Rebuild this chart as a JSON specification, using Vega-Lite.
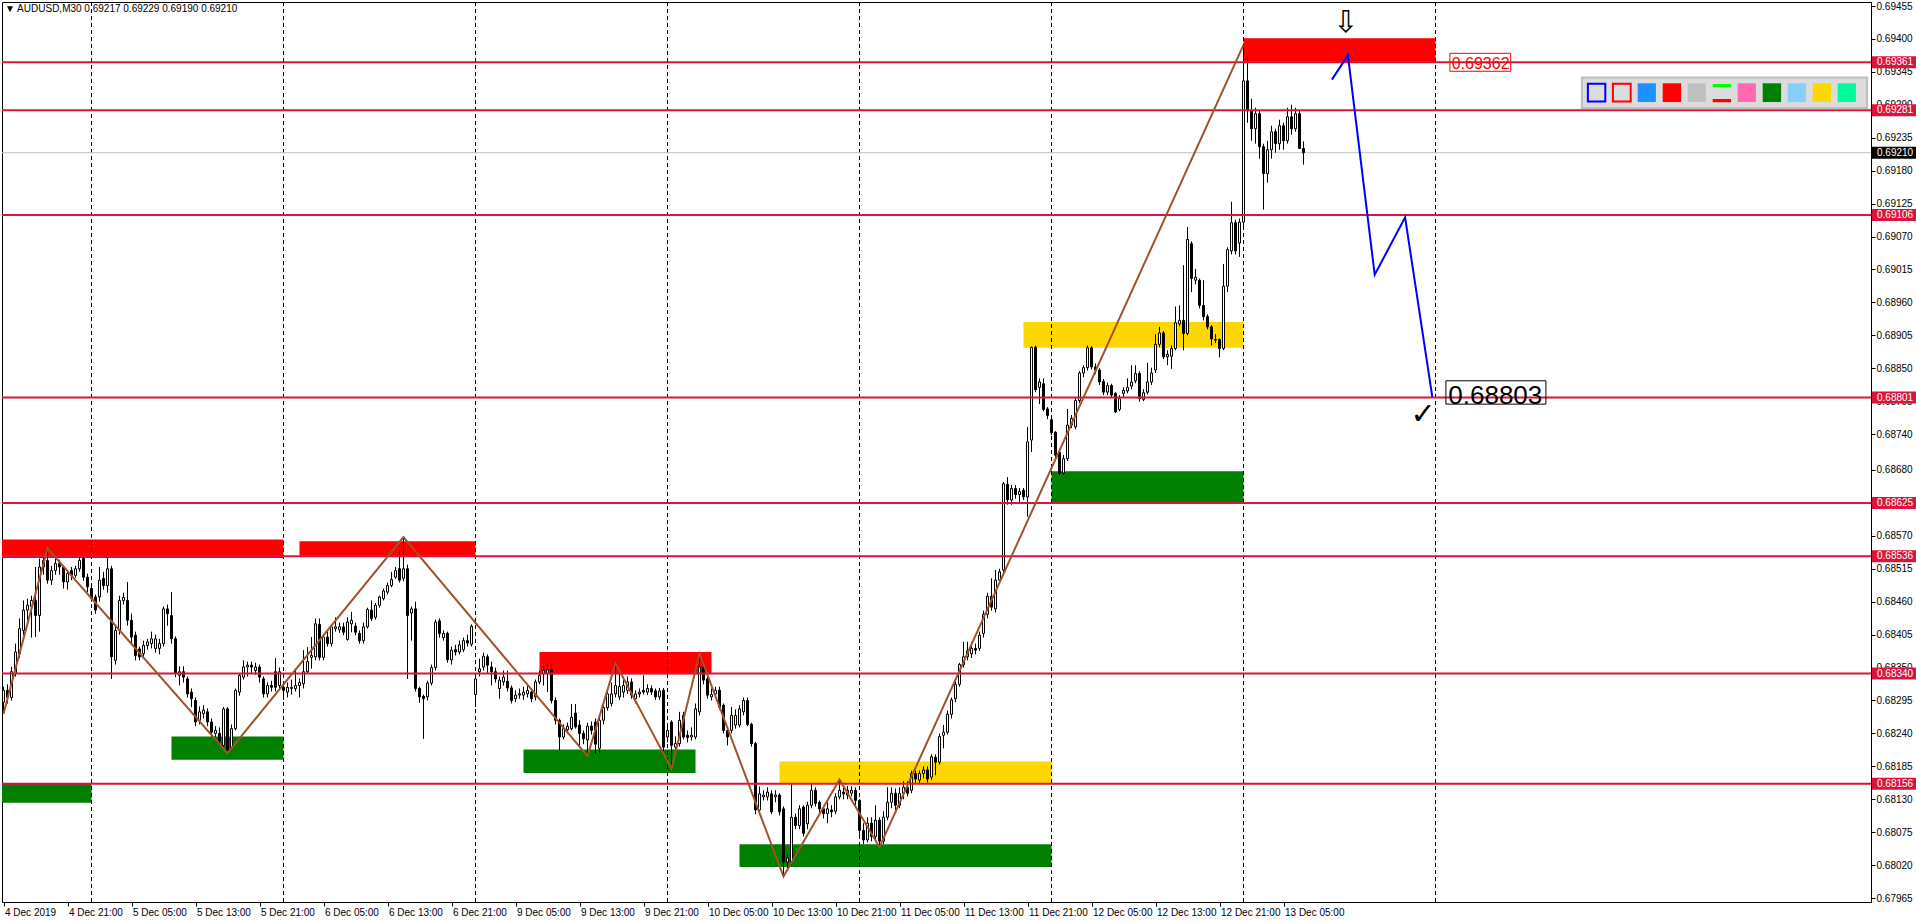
{
"$schema":"https://vega.github.io/schema/vega-lite/v6.json",
"width":1869,"height":900,
"autosize":{"type":"none"},
"padding":{"left":2,"top":2,"right":45,"bottom":21},
"background":"#FFFFFF",
"title":{"text":"▼ AUDUSD,M30  0.69217 0.69229 0.69190 0.69210","anchor":"start","frame":"group","orient":"top","offset":-13,"dx":3,"fontSize":10,"fontWeight":"normal","font":"Liberation Sans","color":"#000000"},
"config":{"view":{"stroke":"#000000","strokeWidth":1},"scale":{"continuousPadding":0},"axis":{"labelFont":"Liberation Sans","labelFontSize":10,"labelColor":"#000000","tickColor":"#000000","domainColor":"#000000","grid":false,"labelOverlap":false,"labelSeparation":0}},
"datasets":{
"candles":[
{"i":0,"o":0.68292,"h":0.68318,"l":0.68273,"c":0.68312},
{"i":1,"o":0.68312,"h":0.68322,"l":0.68290,"c":0.68300},
{"i":2,"o":0.68300,"h":0.68351,"l":0.68295,"c":0.68343},
{"i":3,"o":0.68340,"h":0.68390,"l":0.68335,"c":0.68376},
{"i":4,"o":0.68373,"h":0.68432,"l":0.68366,"c":0.68415},
{"i":5,"o":0.68412,"h":0.68462,"l":0.68404,"c":0.68446},
{"i":6,"o":0.68446,"h":0.68465,"l":0.68429,"c":0.68454},
{"i":7,"o":0.68452,"h":0.68470,"l":0.68400,"c":0.68462},
{"i":8,"o":0.68462,"h":0.68518,"l":0.68401,"c":0.68437},
{"i":9,"o":0.68437,"h":0.68532,"l":0.68410,"c":0.68518},
{"i":10,"o":0.68518,"h":0.68535,"l":0.68505,"c":0.68529},
{"i":11,"o":0.68529,"h":0.68549,"l":0.68490,"c":0.68496},
{"i":12,"o":0.68496,"h":0.68520,"l":0.68488,"c":0.68512},
{"i":13,"o":0.68512,"h":0.68535,"l":0.68505,"c":0.68524},
{"i":14,"o":0.68524,"h":0.68530,"l":0.68505,"c":0.68518},
{"i":15,"o":0.68518,"h":0.68520,"l":0.68482,"c":0.68493},
{"i":16,"o":0.68493,"h":0.68512,"l":0.68480,"c":0.68507},
{"i":17,"o":0.68512,"h":0.68518,"l":0.68496,"c":0.68504},
{"i":18,"o":0.68504,"h":0.68520,"l":0.68500,"c":0.68515},
{"i":19,"o":0.68515,"h":0.68535,"l":0.68510,"c":0.68529},
{"i":20,"o":0.68532,"h":0.68538,"l":0.68495,"c":0.68501},
{"i":21,"o":0.68501,"h":0.68507,"l":0.68476,"c":0.68485},
{"i":22,"o":0.68482,"h":0.68488,"l":0.68460,"c":0.68465},
{"i":23,"o":0.68468,"h":0.68472,"l":0.68440,"c":0.68446},
{"i":24,"o":0.68468,"h":0.68518,"l":0.68460,"c":0.68496},
{"i":25,"o":0.68499,"h":0.68510,"l":0.68480,"c":0.68487},
{"i":26,"o":0.68487,"h":0.68543,"l":0.68475,"c":0.68515},
{"i":27,"o":0.68515,"h":0.68520,"l":0.68331,"c":0.68368},
{"i":28,"o":0.68362,"h":0.68418,"l":0.68355,"c":0.68412},
{"i":29,"o":0.68412,"h":0.68470,"l":0.68405,"c":0.68462},
{"i":30,"o":0.68462,"h":0.68475,"l":0.68455,"c":0.68467},
{"i":31,"o":0.68462,"h":0.68493,"l":0.68420,"c":0.68429},
{"i":32,"o":0.68429,"h":0.68440,"l":0.68390,"c":0.68401},
{"i":33,"o":0.68404,"h":0.68410,"l":0.68362,"c":0.68370},
{"i":34,"o":0.68381,"h":0.68385,"l":0.68362,"c":0.68368},
{"i":35,"o":0.68373,"h":0.68395,"l":0.68365,"c":0.68387},
{"i":36,"o":0.68387,"h":0.68398,"l":0.68380,"c":0.68393},
{"i":37,"o":0.68390,"h":0.68410,"l":0.68382,"c":0.68398},
{"i":38,"o":0.68382,"h":0.68405,"l":0.68375,"c":0.68398},
{"i":39,"o":0.68382,"h":0.68398,"l":0.68372,"c":0.68390},
{"i":40,"o":0.68390,"h":0.68452,"l":0.68385,"c":0.68448},
{"i":41,"o":0.68448,"h":0.68455,"l":0.68420,"c":0.68440},
{"i":42,"o":0.68437,"h":0.68476,"l":0.68390,"c":0.68398},
{"i":43,"o":0.68398,"h":0.68402,"l":0.68334,"c":0.68340},
{"i":44,"o":0.68337,"h":0.68352,"l":0.68320,"c":0.68343},
{"i":45,"o":0.68343,"h":0.68352,"l":0.68325,"c":0.68334},
{"i":46,"o":0.68331,"h":0.68335,"l":0.68300,"c":0.68306},
{"i":47,"o":0.68309,"h":0.68315,"l":0.68284,"c":0.68298},
{"i":48,"o":0.68295,"h":0.68300,"l":0.68252,"c":0.68259},
{"i":49,"o":0.68262,"h":0.68285,"l":0.68255,"c":0.68276},
{"i":50,"o":0.68273,"h":0.68287,"l":0.68265,"c":0.68279},
{"i":51,"o":0.68276,"h":0.68282,"l":0.68252,"c":0.68259},
{"i":52,"o":0.68259,"h":0.68265,"l":0.68235,"c":0.68242},
{"i":53,"o":0.68240,"h":0.68252,"l":0.68234,"c":0.68245},
{"i":54,"o":0.68240,"h":0.68250,"l":0.68222,"c":0.68228},
{"i":55,"o":0.68220,"h":0.68284,"l":0.68215,"c":0.68281},
{"i":56,"o":0.68281,"h":0.68284,"l":0.68207,"c":0.68212},
{"i":57,"o":0.68217,"h":0.68255,"l":0.68212,"c":0.68248},
{"i":58,"o":0.68248,"h":0.68315,"l":0.68245,"c":0.68312},
{"i":59,"o":0.68309,"h":0.68340,"l":0.68303,"c":0.68337},
{"i":60,"o":0.68334,"h":0.68362,"l":0.68330,"c":0.68351},
{"i":61,"o":0.68351,"h":0.68360,"l":0.68335,"c":0.68354},
{"i":62,"o":0.68354,"h":0.68360,"l":0.68340,"c":0.68351},
{"i":63,"o":0.68345,"h":0.68358,"l":0.68338,"c":0.68351},
{"i":64,"o":0.68351,"h":0.68355,"l":0.68325,"c":0.68334},
{"i":65,"o":0.68331,"h":0.68335,"l":0.68300,"c":0.68306},
{"i":66,"o":0.68306,"h":0.68325,"l":0.68300,"c":0.68320},
{"i":67,"o":0.68320,"h":0.68328,"l":0.68310,"c":0.68317},
{"i":68,"o":0.68343,"h":0.68366,"l":0.68310,"c":0.68317},
{"i":69,"o":0.68320,"h":0.68350,"l":0.68315,"c":0.68343},
{"i":70,"o":0.68317,"h":0.68322,"l":0.68296,"c":0.68312},
{"i":71,"o":0.68309,"h":0.68325,"l":0.68300,"c":0.68317},
{"i":72,"o":0.68315,"h":0.68330,"l":0.68305,"c":0.68317},
{"i":73,"o":0.68315,"h":0.68345,"l":0.68310,"c":0.68320},
{"i":74,"o":0.68320,"h":0.68332,"l":0.68300,"c":0.68325},
{"i":75,"o":0.68323,"h":0.68379,"l":0.68315,"c":0.68343},
{"i":76,"o":0.68343,"h":0.68384,"l":0.68340,"c":0.68360},
{"i":77,"o":0.68367,"h":0.68401,"l":0.68348,"c":0.68370},
{"i":78,"o":0.68368,"h":0.68432,"l":0.68362,"c":0.68423},
{"i":79,"o":0.68422,"h":0.68432,"l":0.68362,"c":0.68367},
{"i":80,"o":0.68367,"h":0.68405,"l":0.68362,"c":0.68401},
{"i":81,"o":0.68401,"h":0.68410,"l":0.68385,"c":0.68390},
{"i":82,"o":0.68390,"h":0.68420,"l":0.68385,"c":0.68418},
{"i":83,"o":0.68415,"h":0.68434,"l":0.68410,"c":0.68418},
{"i":84,"o":0.68413,"h":0.68425,"l":0.68408,"c":0.68418},
{"i":85,"o":0.68418,"h":0.68425,"l":0.68404,"c":0.68409},
{"i":86,"o":0.68397,"h":0.68434,"l":0.68395,"c":0.68426},
{"i":87,"o":0.68423,"h":0.68443,"l":0.68409,"c":0.68429},
{"i":88,"o":0.68419,"h":0.68425,"l":0.68404,"c":0.68409},
{"i":89,"o":0.68407,"h":0.68412,"l":0.68390,"c":0.68395},
{"i":90,"o":0.68395,"h":0.68425,"l":0.68390,"c":0.68418},
{"i":91,"o":0.68418,"h":0.68450,"l":0.68415,"c":0.68447},
{"i":92,"o":0.68446,"h":0.68462,"l":0.68428,"c":0.68432},
{"i":93,"o":0.68434,"h":0.68458,"l":0.68430,"c":0.68454},
{"i":94,"o":0.68454,"h":0.68470,"l":0.68450,"c":0.68468},
{"i":95,"o":0.68465,"h":0.68482,"l":0.68462,"c":0.68478},
{"i":96,"o":0.68476,"h":0.68492,"l":0.68472,"c":0.68487},
{"i":97,"o":0.68487,"h":0.68510,"l":0.68484,"c":0.68497},
{"i":98,"o":0.68501,"h":0.68518,"l":0.68498,"c":0.68512},
{"i":99,"o":0.68515,"h":0.68547,"l":0.68492,"c":0.68496},
{"i":100,"o":0.68499,"h":0.68568,"l":0.68494,"c":0.68515},
{"i":101,"o":0.68515,"h":0.68522,"l":0.68331,"c":0.68437},
{"i":102,"o":0.68441,"h":0.68452,"l":0.68395,"c":0.68448},
{"i":103,"o":0.68448,"h":0.68460,"l":0.68310,"c":0.68315},
{"i":104,"o":0.68315,"h":0.68318,"l":0.68291,"c":0.68301},
{"i":105,"o":0.68302,"h":0.68305,"l":0.68231,"c":0.68298},
{"i":106,"o":0.68301,"h":0.68328,"l":0.68295,"c":0.68324},
{"i":107,"o":0.68324,"h":0.68355,"l":0.68320,"c":0.68350},
{"i":108,"o":0.68350,"h":0.68430,"l":0.68345,"c":0.68426},
{"i":109,"o":0.68428,"h":0.68432,"l":0.68400,"c":0.68407},
{"i":110,"o":0.68400,"h":0.68412,"l":0.68395,"c":0.68407},
{"i":111,"o":0.68407,"h":0.68410,"l":0.68358,"c":0.68363},
{"i":112,"o":0.68363,"h":0.68385,"l":0.68355,"c":0.68379},
{"i":113,"o":0.68380,"h":0.68388,"l":0.68370,"c":0.68376},
{"i":114,"o":0.68376,"h":0.68395,"l":0.68372,"c":0.68388},
{"i":115,"o":0.68380,"h":0.68400,"l":0.68376,"c":0.68395},
{"i":116,"o":0.68395,"h":0.68405,"l":0.68385,"c":0.68391},
{"i":117,"o":0.68389,"h":0.68422,"l":0.68385,"c":0.68419},
{"i":118,"o":0.68305,"h":0.68340,"l":0.68284,"c":0.68331},
{"i":119,"o":0.68343,"h":0.68365,"l":0.68335,"c":0.68348},
{"i":120,"o":0.68351,"h":0.68375,"l":0.68345,"c":0.68369},
{"i":121,"o":0.68368,"h":0.68372,"l":0.68340,"c":0.68354},
{"i":122,"o":0.68351,"h":0.68360,"l":0.68320,"c":0.68343},
{"i":123,"o":0.68343,"h":0.68350,"l":0.68325,"c":0.68331},
{"i":124,"o":0.68315,"h":0.68335,"l":0.68298,"c":0.68329},
{"i":125,"o":0.68326,"h":0.68345,"l":0.68320,"c":0.68334},
{"i":126,"o":0.68327,"h":0.68345,"l":0.68310,"c":0.68316},
{"i":127,"o":0.68316,"h":0.68320,"l":0.68290,"c":0.68295},
{"i":128,"o":0.68298,"h":0.68312,"l":0.68292,"c":0.68304},
{"i":129,"o":0.68304,"h":0.68315,"l":0.68298,"c":0.68306},
{"i":130,"o":0.68304,"h":0.68318,"l":0.68296,"c":0.68309},
{"i":131,"o":0.68306,"h":0.68320,"l":0.68300,"c":0.68312},
{"i":132,"o":0.68309,"h":0.68315,"l":0.68292,"c":0.68298},
{"i":133,"o":0.68301,"h":0.68330,"l":0.68295,"c":0.68326},
{"i":134,"o":0.68326,"h":0.68345,"l":0.68322,"c":0.68337},
{"i":135,"o":0.68340,"h":0.68352,"l":0.68320,"c":0.68345},
{"i":136,"o":0.68340,"h":0.68355,"l":0.68309,"c":0.68346},
{"i":137,"o":0.68346,"h":0.68355,"l":0.68290,"c":0.68295},
{"i":138,"o":0.68295,"h":0.68300,"l":0.68255,"c":0.68262},
{"i":139,"o":0.68262,"h":0.68265,"l":0.68212,"c":0.68234},
{"i":140,"o":0.68234,"h":0.68255,"l":0.68230,"c":0.68248},
{"i":141,"o":0.68246,"h":0.68258,"l":0.68240,"c":0.68252},
{"i":142,"o":0.68248,"h":0.68289,"l":0.68245,"c":0.68267},
{"i":143,"o":0.68274,"h":0.68289,"l":0.68248,"c":0.68251},
{"i":144,"o":0.68254,"h":0.68262,"l":0.68220,"c":0.68240},
{"i":145,"o":0.68240,"h":0.68245,"l":0.68222,"c":0.68231},
{"i":146,"o":0.68229,"h":0.68258,"l":0.68202,"c":0.68252},
{"i":147,"o":0.68252,"h":0.68260,"l":0.68238,"c":0.68245},
{"i":148,"o":0.68259,"h":0.68265,"l":0.68206,"c":0.68222},
{"i":149,"o":0.68215,"h":0.68268,"l":0.68208,"c":0.68262},
{"i":150,"o":0.68262,"h":0.68290,"l":0.68255,"c":0.68283},
{"i":151,"o":0.68283,"h":0.68312,"l":0.68278,"c":0.68306},
{"i":152,"o":0.68290,"h":0.68325,"l":0.68285,"c":0.68306},
{"i":153,"o":0.68306,"h":0.68357,"l":0.68300,"c":0.68320},
{"i":154,"o":0.68301,"h":0.68340,"l":0.68296,"c":0.68318},
{"i":155,"o":0.68309,"h":0.68330,"l":0.68300,"c":0.68320},
{"i":156,"o":0.68312,"h":0.68335,"l":0.68306,"c":0.68326},
{"i":157,"o":0.68326,"h":0.68332,"l":0.68298,"c":0.68304},
{"i":158,"o":0.68298,"h":0.68312,"l":0.68290,"c":0.68306},
{"i":159,"o":0.68306,"h":0.68315,"l":0.68300,"c":0.68309},
{"i":160,"o":0.68312,"h":0.68337,"l":0.68305,"c":0.68309},
{"i":161,"o":0.68309,"h":0.68322,"l":0.68304,"c":0.68315},
{"i":162,"o":0.68315,"h":0.68320,"l":0.68304,"c":0.68309},
{"i":163,"o":0.68311,"h":0.68315,"l":0.68296,"c":0.68301},
{"i":164,"o":0.68301,"h":0.68316,"l":0.68296,"c":0.68311},
{"i":165,"o":0.68312,"h":0.68316,"l":0.68210,"c":0.68217},
{"i":166,"o":0.68234,"h":0.68252,"l":0.68225,"c":0.68245},
{"i":167,"o":0.68259,"h":0.68262,"l":0.68181,"c":0.68220},
{"i":168,"o":0.68217,"h":0.68235,"l":0.68210,"c":0.68223},
{"i":169,"o":0.68223,"h":0.68276,"l":0.68218,"c":0.68262},
{"i":170,"o":0.68270,"h":0.68276,"l":0.68230,"c":0.68234},
{"i":171,"o":0.68237,"h":0.68245,"l":0.68225,"c":0.68233},
{"i":172,"o":0.68234,"h":0.68250,"l":0.68228,"c":0.68237},
{"i":173,"o":0.68234,"h":0.68290,"l":0.68230,"c":0.68281},
{"i":174,"o":0.68276,"h":0.68373,"l":0.68270,"c":0.68351},
{"i":175,"o":0.68351,"h":0.68360,"l":0.68322,"c":0.68329},
{"i":176,"o":0.68331,"h":0.68335,"l":0.68298,"c":0.68304},
{"i":177,"o":0.68301,"h":0.68315,"l":0.68295,"c":0.68305},
{"i":178,"o":0.68306,"h":0.68318,"l":0.68300,"c":0.68312},
{"i":179,"o":0.68312,"h":0.68318,"l":0.68280,"c":0.68284},
{"i":180,"o":0.68287,"h":0.68290,"l":0.68240,"c":0.68245},
{"i":181,"o":0.68245,"h":0.68250,"l":0.68220,"c":0.68234},
{"i":182,"o":0.68245,"h":0.68284,"l":0.68240,"c":0.68270},
{"i":183,"o":0.68254,"h":0.68280,"l":0.68248,"c":0.68270},
{"i":184,"o":0.68254,"h":0.68287,"l":0.68250,"c":0.68281},
{"i":185,"o":0.68276,"h":0.68300,"l":0.68270,"c":0.68295},
{"i":186,"o":0.68295,"h":0.68300,"l":0.68252,"c":0.68255},
{"i":187,"o":0.68255,"h":0.68258,"l":0.68218,"c":0.68223},
{"i":188,"o":0.68223,"h":0.68226,"l":0.68105,"c":0.68112},
{"i":189,"o":0.68112,"h":0.68151,"l":0.68105,"c":0.68139},
{"i":190,"o":0.68134,"h":0.68145,"l":0.68128,"c":0.68137},
{"i":191,"o":0.68134,"h":0.68150,"l":0.68128,"c":0.68142},
{"i":192,"o":0.68139,"h":0.68145,"l":0.68105,"c":0.68109},
{"i":193,"o":0.68134,"h":0.68145,"l":0.68125,"c":0.68137},
{"i":194,"o":0.68137,"h":0.68140,"l":0.68103,"c":0.68109},
{"i":195,"o":0.68114,"h":0.68118,"l":0.68001,"c":0.68025},
{"i":196,"o":0.68025,"h":0.68040,"l":0.68010,"c":0.68032},
{"i":197,"o":0.68025,"h":0.68156,"l":0.68020,"c":0.68100},
{"i":198,"o":0.68100,"h":0.68106,"l":0.68080,"c":0.68086},
{"i":199,"o":0.68086,"h":0.68120,"l":0.68080,"c":0.68114},
{"i":200,"o":0.68117,"h":0.68120,"l":0.68068,"c":0.68073},
{"i":201,"o":0.68089,"h":0.68126,"l":0.68080,"c":0.68120},
{"i":202,"o":0.68120,"h":0.68156,"l":0.68115,"c":0.68145},
{"i":203,"o":0.68145,"h":0.68150,"l":0.68118,"c":0.68123},
{"i":204,"o":0.68125,"h":0.68128,"l":0.68108,"c":0.68114},
{"i":205,"o":0.68114,"h":0.68118,"l":0.68098,"c":0.68106},
{"i":206,"o":0.68106,"h":0.68125,"l":0.68090,"c":0.68114},
{"i":207,"o":0.68112,"h":0.68120,"l":0.68100,"c":0.68109},
{"i":208,"o":0.68110,"h":0.68140,"l":0.68105,"c":0.68134},
{"i":209,"o":0.68134,"h":0.68163,"l":0.68130,"c":0.68145},
{"i":210,"o":0.68142,"h":0.68150,"l":0.68130,"c":0.68139},
{"i":211,"o":0.68137,"h":0.68152,"l":0.68130,"c":0.68145},
{"i":212,"o":0.68140,"h":0.68152,"l":0.68135,"c":0.68145},
{"i":213,"o":0.68145,"h":0.68150,"l":0.68120,"c":0.68128},
{"i":214,"o":0.68128,"h":0.68130,"l":0.68070,"c":0.68078},
{"i":215,"o":0.68078,"h":0.68090,"l":0.68055,"c":0.68062},
{"i":216,"o":0.68062,"h":0.68100,"l":0.68058,"c":0.68090},
{"i":217,"o":0.68090,"h":0.68100,"l":0.68060,"c":0.68068},
{"i":218,"o":0.68068,"h":0.68120,"l":0.68062,"c":0.68095},
{"i":219,"o":0.68095,"h":0.68100,"l":0.68050,"c":0.68060},
{"i":220,"o":0.68060,"h":0.68110,"l":0.68055,"c":0.68100},
{"i":221,"o":0.68100,"h":0.68150,"l":0.68095,"c":0.68125},
{"i":222,"o":0.68125,"h":0.68150,"l":0.68115,"c":0.68140},
{"i":223,"o":0.68140,"h":0.68148,"l":0.68110,"c":0.68120},
{"i":224,"o":0.68120,"h":0.68150,"l":0.68115,"c":0.68140},
{"i":225,"o":0.68140,"h":0.68160,"l":0.68130,"c":0.68150},
{"i":226,"o":0.68150,"h":0.68160,"l":0.68135,"c":0.68140},
{"i":227,"o":0.68145,"h":0.68178,"l":0.68140,"c":0.68173},
{"i":228,"o":0.68173,"h":0.68178,"l":0.68155,"c":0.68164},
{"i":229,"o":0.68162,"h":0.68178,"l":0.68155,"c":0.68173},
{"i":230,"o":0.68173,"h":0.68185,"l":0.68165,"c":0.68179},
{"i":231,"o":0.68179,"h":0.68185,"l":0.68158,"c":0.68164},
{"i":232,"o":0.68167,"h":0.68205,"l":0.68162,"c":0.68201},
{"i":233,"o":0.68200,"h":0.68205,"l":0.68170,"c":0.68192},
{"i":234,"o":0.68192,"h":0.68240,"l":0.68188,"c":0.68235},
{"i":235,"o":0.68237,"h":0.68254,"l":0.68215,"c":0.68242},
{"i":236,"o":0.68242,"h":0.68278,"l":0.68238,"c":0.68272},
{"i":237,"o":0.68272,"h":0.68300,"l":0.68265,"c":0.68296},
{"i":238,"o":0.68298,"h":0.68328,"l":0.68292,"c":0.68322},
{"i":239,"o":0.68322,"h":0.68358,"l":0.68318,"c":0.68355},
{"i":240,"o":0.68355,"h":0.68393,"l":0.68350,"c":0.68368},
{"i":241,"o":0.68368,"h":0.68393,"l":0.68362,"c":0.68378},
{"i":242,"o":0.68373,"h":0.68392,"l":0.68366,"c":0.68382},
{"i":243,"o":0.68382,"h":0.68390,"l":0.68372,"c":0.68379},
{"i":244,"o":0.68382,"h":0.68410,"l":0.68378,"c":0.68404},
{"i":245,"o":0.68407,"h":0.68445,"l":0.68400,"c":0.68439},
{"i":246,"o":0.68439,"h":0.68475,"l":0.68432,"c":0.68469},
{"i":247,"o":0.68469,"h":0.68499,"l":0.68445,"c":0.68451},
{"i":248,"o":0.68448,"h":0.68513,"l":0.68442,"c":0.68496},
{"i":249,"o":0.68496,"h":0.68515,"l":0.68490,"c":0.68510},
{"i":250,"o":0.68513,"h":0.68660,"l":0.68508,"c":0.68657},
{"i":251,"o":0.68656,"h":0.68668,"l":0.68622,"c":0.68630},
{"i":252,"o":0.68630,"h":0.68655,"l":0.68622,"c":0.68649},
{"i":253,"o":0.68649,"h":0.68655,"l":0.68632,"c":0.68639},
{"i":254,"o":0.68639,"h":0.68650,"l":0.68625,"c":0.68644},
{"i":255,"o":0.68646,"h":0.68650,"l":0.68630,"c":0.68635},
{"i":256,"o":0.68635,"h":0.68752,"l":0.68602,"c":0.68727},
{"i":257,"o":0.68730,"h":0.68886,"l":0.68710,"c":0.68885},
{"i":258,"o":0.68885,"h":0.68888,"l":0.68810,"c":0.68814},
{"i":259,"o":0.68818,"h":0.68833,"l":0.68790,"c":0.68827},
{"i":260,"o":0.68824,"h":0.68833,"l":0.68778,"c":0.68781},
{"i":261,"o":0.68782,"h":0.68785,"l":0.68765,"c":0.68771},
{"i":262,"o":0.68764,"h":0.68766,"l":0.68738,"c":0.68742},
{"i":263,"o":0.68743,"h":0.68745,"l":0.68700,"c":0.68705},
{"i":264,"o":0.68710,"h":0.68712,"l":0.68671,"c":0.68674},
{"i":265,"o":0.68675,"h":0.68705,"l":0.68672,"c":0.68699},
{"i":266,"o":0.68699,"h":0.68782,"l":0.68695,"c":0.68755},
{"i":267,"o":0.68755,"h":0.68772,"l":0.68750,"c":0.68766},
{"i":268,"o":0.68752,"h":0.68800,"l":0.68748,"c":0.68796},
{"i":269,"o":0.68796,"h":0.68845,"l":0.68792,"c":0.68842},
{"i":270,"o":0.68842,"h":0.68855,"l":0.68835,"c":0.68851},
{"i":271,"o":0.68851,"h":0.68888,"l":0.68846,"c":0.68884},
{"i":272,"o":0.68884,"h":0.68887,"l":0.68848,"c":0.68852},
{"i":273,"o":0.68852,"h":0.68858,"l":0.68840,"c":0.68847},
{"i":274,"o":0.68847,"h":0.68850,"l":0.68822,"c":0.68827},
{"i":275,"o":0.68828,"h":0.68832,"l":0.68805,"c":0.68810},
{"i":276,"o":0.68810,"h":0.68826,"l":0.68805,"c":0.68821},
{"i":277,"o":0.68821,"h":0.68824,"l":0.68800,"c":0.68805},
{"i":278,"o":0.68808,"h":0.68810,"l":0.68775,"c":0.68777},
{"i":279,"o":0.68781,"h":0.68805,"l":0.68778,"c":0.68799},
{"i":280,"o":0.68808,"h":0.68818,"l":0.68802,"c":0.68813},
{"i":281,"o":0.68812,"h":0.68833,"l":0.68808,"c":0.68818},
{"i":282,"o":0.68820,"h":0.68855,"l":0.68815,"c":0.68827},
{"i":283,"o":0.68829,"h":0.68855,"l":0.68825,"c":0.68841},
{"i":284,"o":0.68841,"h":0.68845,"l":0.68794,"c":0.68799},
{"i":285,"o":0.68798,"h":0.68815,"l":0.68795,"c":0.68809},
{"i":286,"o":0.68810,"h":0.68859,"l":0.68806,"c":0.68827},
{"i":287,"o":0.68827,"h":0.68851,"l":0.68822,"c":0.68842},
{"i":288,"o":0.68847,"h":0.68907,"l":0.68842,"c":0.68890},
{"i":289,"o":0.68890,"h":0.68919,"l":0.68885,"c":0.68909},
{"i":290,"o":0.68909,"h":0.68912,"l":0.68865,"c":0.68869},
{"i":291,"o":0.68869,"h":0.68880,"l":0.68855,"c":0.68873},
{"i":292,"o":0.68870,"h":0.68888,"l":0.68849,"c":0.68883},
{"i":293,"o":0.68883,"h":0.68953,"l":0.68880,"c":0.68926},
{"i":294,"o":0.68924,"h":0.68955,"l":0.68920,"c":0.68930},
{"i":295,"o":0.68930,"h":0.69022,"l":0.68880,"c":0.68908},
{"i":296,"o":0.68908,"h":0.69086,"l":0.68905,"c":0.69065},
{"i":297,"o":0.69058,"h":0.69062,"l":0.68977,"c":0.69000},
{"i":298,"o":0.68997,"h":0.69016,"l":0.68990,"c":0.69002},
{"i":299,"o":0.68997,"h":0.69000,"l":0.68950,"c":0.68955},
{"i":300,"o":0.68955,"h":0.68997,"l":0.68930,"c":0.68936},
{"i":301,"o":0.68936,"h":0.68940,"l":0.68915,"c":0.68919},
{"i":302,"o":0.68919,"h":0.68922,"l":0.68888,"c":0.68899},
{"i":303,"o":0.68898,"h":0.68907,"l":0.68892,"c":0.68897},
{"i":304,"o":0.68898,"h":0.68900,"l":0.68868,"c":0.68883},
{"i":305,"o":0.68883,"h":0.69024,"l":0.68880,"c":0.68987},
{"i":306,"o":0.68987,"h":0.69052,"l":0.68977,"c":0.69048},
{"i":307,"o":0.69046,"h":0.69128,"l":0.69040,"c":0.69093},
{"i":308,"o":0.69093,"h":0.69098,"l":0.69040,"c":0.69046},
{"i":309,"o":0.69059,"h":0.69100,"l":0.69036,"c":0.69094},
{"i":310,"o":0.69094,"h":0.69390,"l":0.69085,"c":0.69330},
{"i":311,"o":0.69330,"h":0.69370,"l":0.69260,"c":0.69280},
{"i":312,"o":0.69280,"h":0.69300,"l":0.69230,"c":0.69250},
{"i":313,"o":0.69250,"h":0.69285,"l":0.69225,"c":0.69275},
{"i":314,"o":0.69275,"h":0.69280,"l":0.69200,"c":0.69220},
{"i":315,"o":0.69220,"h":0.69225,"l":0.69115,"c":0.69175},
{"i":316,"o":0.69175,"h":0.69230,"l":0.69160,"c":0.69215},
{"i":317,"o":0.69215,"h":0.69255,"l":0.69200,"c":0.69245},
{"i":318,"o":0.69245,"h":0.69250,"l":0.69210,"c":0.69225},
{"i":319,"o":0.69225,"h":0.69265,"l":0.69215,"c":0.69255},
{"i":320,"o":0.69255,"h":0.69260,"l":0.69215,"c":0.69230},
{"i":321,"o":0.69230,"h":0.69285,"l":0.69225,"c":0.69270},
{"i":322,"o":0.69270,"h":0.69290,"l":0.69240,"c":0.69250},
{"i":323,"o":0.69250,"h":0.69285,"l":0.69245,"c":0.69275},
{"i":324,"o":0.69275,"h":0.69280,"l":0.69220,"c":0.69217},
{"i":325,"o":0.69217,"h":0.69229,"l":0.69190,"c":0.69210}
],
"levels":[{"p":0.69361},{"p":0.69281},{"p":0.69106},{"p":0.68801},{"p":0.68625},{"p":0.68536},{"p":0.68340},{"p":0.68156}],
"bid":[{"p":0.69210}],
"seps":[{"i":22},{"i":70},{"i":118},{"i":166},{"i":214},{"i":262},{"i":310},{"i":358}],
"zones":[
{"kind":"supply","x1":-0.375,"x2":70,"p1":0.68533,"p2":0.68564},
{"kind":"supply","x1":74,"x2":118,"p1":0.68535,"p2":0.68561},
{"kind":"demand","x1":-0.375,"x2":22,"p1":0.68124,"p2":0.68157},
{"kind":"demand","x1":42,"x2":70,"p1":0.68196,"p2":0.68235},
{"kind":"supply","x1":134,"x2":177,"p1":0.68339,"p2":0.68376},
{"kind":"demand","x1":130,"x2":173,"p1":0.68174,"p2":0.68213},
{"kind":"pivot","x1":194,"x2":262,"p1":0.68156,"p2":0.68193},
{"kind":"demand","x1":184,"x2":262,"p1":0.68017,"p2":0.68055},
{"kind":"demand","x1":262,"x2":310,"p1":0.68626,"p2":0.68678},
{"kind":"pivot","x1":255,"x2":310,"p1":0.68884,"p2":0.68927},
{"kind":"supply","x1":310,"x2":358,"p1":0.69361,"p2":0.69401}
],
"zigzag":[{"i":0,"p":0.68273},{"i":11,"p":0.68549},{"i":56,"p":0.68207},{"i":100,"p":0.68568},{"i":146,"p":0.68202},{"i":153,"p":0.68357},{"i":167,"p":0.68181},{"i":174,"p":0.68373},{"i":195,"p":0.68001},{"i":209,"p":0.68163},{"i":219,"p":0.68050},{"i":310,"p":0.69390}],
"proj":[{"i":332.1,"p":0.69332},{"i":336.1,"p":0.69373},{"i":342.8,"p":0.69006},{"i":350.4,"p":0.69102},{"i":357.2,"p":0.68802}],
"panel":[{"x1":394.6,"x2":465.9,"p1":0.692846,"p2":0.693356}],
"palette":[
{"k":"frameB","x1":395.95,"x2":400.6,"p1":0.692946,"p2":0.693259},
{"k":"frameR","x1":402.2,"x2":406.95,"p1":0.692946,"p2":0.693259},
{"k":"dodger","x1":408.55,"x2":413.1,"p1":0.692946,"p2":0.693259},
{"k":"red","x1":414.8,"x2":419.4,"p1":0.692946,"p2":0.693259},
{"k":"silver","x1":421.05,"x2":425.6,"p1":0.692946,"p2":0.693259},
{"k":"lineG","x1":427.3,"x2":431.9,"p1":0.693192,"p2":0.693247},
{"k":"lineR","x1":427.3,"x2":431.9,"p1":0.692942,"p2":0.692997},
{"k":"pink","x1":433.55,"x2":438.1,"p1":0.692946,"p2":0.693259},
{"k":"green","x1":439.8,"x2":444.4,"p1":0.692946,"p2":0.693259},
{"k":"sky","x1":446.05,"x2":450.6,"p1":0.692946,"p2":0.693259},
{"k":"gold","x1":452.3,"x2":456.9,"p1":0.692946,"p2":0.693259},
{"k":"spring","x1":458.55,"x2":463.1,"p1":0.692946,"p2":0.693259}
],
"frames":[
{"k":"frameB","x1":396.1,"x2":400.45,"p1":0.692955,"p2":0.69325},
{"k":"frameR","x1":402.35,"x2":406.8,"p1":0.692955,"p2":0.69325}
]
},
"layer":[
{"data":{"name":"zones"},"mark":{"type":"rect","strokeWidth":0},
 "encoding":{"x":{"field":"x1","type":"quantitative","scale":{"domain":[-0.375,466.875],"nice":false,"zero":false,"padding":0}},"x2":{"field":"x2"},
 "y":{"field":"p1","type":"quantitative","scale":{"domain":[0.679584,0.694617],"nice":false,"zero":false}},"y2":{"field":"p2"},
 "fill":{"field":"kind","type":"nominal","scale":{"domain":["supply","demand","pivot"],"range":["#FF0000","#008000","#FFD700"]},"legend":null}}},
{"data":{"name":"seps"},"mark":{"type":"rule","color":"#000000","strokeWidth":1,"strokeDash":[4,3]},
 "encoding":{"x":{"field":"i","type":"quantitative","scale":{"domain":[-0.375,466.875],"nice":false,"zero":false,"padding":0}}}},
{"data":{"name":"bid"},"mark":{"type":"rule","color":"#C0C0C0","strokeWidth":1},
 "encoding":{"y":{"field":"p","type":"quantitative","scale":{"domain":[0.679584,0.694617],"nice":false,"zero":false}}}},
{"data":{"name":"candles"},"mark":{"type":"rule","color":"#000000","strokeWidth":1},
 "encoding":{
  "x":{"field":"i","type":"quantitative","scale":{"domain":[-0.375,466.875],"nice":false,"zero":false,"padding":0},
   "axis":{"title":null,"values":[0,16,32,48,64,80,96,112,128,144,160,176,192,208,224,240,256,272,288,304,320],"tickCount":60,
   "labelExpr":"['4 Dec 2019','4 Dec 21:00','5 Dec 05:00','5 Dec 13:00','5 Dec 21:00','6 Dec 05:00','6 Dec 13:00','6 Dec 21:00','9 Dec 05:00','9 Dec 13:00','9 Dec 21:00','10 Dec 05:00','10 Dec 13:00','10 Dec 21:00','11 Dec 05:00','11 Dec 13:00','11 Dec 21:00','12 Dec 05:00','12 Dec 13:00','12 Dec 21:00','13 Dec 05:00'][round(datum.value/16)]",
   "labelAlign":"left","labelBaseline":"top","labelPadding":1,"labelOffset":1,"tickSize":4,"labelOverlap":false,"labelBound":false,"labelFlush":false,"grid":false}},
  "y":{"field":"l","type":"quantitative","scale":{"domain":[0.679584,0.694617],"nice":false,"zero":false},
   "axis":{"title":null,"orient":"right","tickCount":60,"values":[0.69455,0.694,0.69345,0.6929,0.69235,0.6918,0.69125,0.6907,0.69015,0.6896,0.68905,0.6885,0.68795,0.6874,0.6868,0.68625,0.6857,0.68515,0.6846,0.68405,0.6835,0.68295,0.6824,0.68185,0.6813,0.68075,0.6802,0.67965],
   "format":".5f","tickSize":4,"labelPadding":1,"labelOverlap":false,"labelBound":false,"labelFlush":false,"grid":false}},
  "y2":{"field":"h"}}},
{"data":{"name":"candles"},"mark":{"type":"bar","size":2,"stroke":"#000000","strokeWidth":1,"orient":"vertical"},
 "encoding":{"x":{"field":"i","type":"quantitative","scale":{"domain":[-0.375,466.875],"nice":false,"zero":false,"padding":0}},
 "y":{"field":"o","type":"quantitative","scale":{"domain":[0.679584,0.694617],"nice":false,"zero":false}},"y2":{"field":"c"},
 "fill":{"condition":{"test":"datum.c >= datum.o","value":"#FFFFFF"},"value":"#000000"}}},
{"data":{"name":"levels"},"mark":{"type":"rule","color":"#DC143C","strokeWidth":2},
 "encoding":{"y":{"field":"p","type":"quantitative","scale":{"domain":[0.679584,0.694617],"nice":false,"zero":false}}}},
{"data":{"name":"zigzag"},"mark":{"type":"line","color":"#A0522D","strokeWidth":2},
 "encoding":{"x":{"field":"i","type":"quantitative","scale":{"domain":[-0.375,466.875],"nice":false,"zero":false,"padding":0}},
 "y":{"field":"p","type":"quantitative","scale":{"domain":[0.679584,0.694617],"nice":false,"zero":false}}}},
{"data":{"name":"proj"},"mark":{"type":"line","color":"#0000FF","strokeWidth":2},
 "encoding":{"x":{"field":"i","type":"quantitative","scale":{"domain":[-0.375,466.875],"nice":false,"zero":false,"padding":0}},
 "y":{"field":"p","type":"quantitative","scale":{"domain":[0.679584,0.694617],"nice":false,"zero":false}}}},
{"data":{"values":[{"x1":360.6,"x2":385.6,"p1":0.68790,"p2":0.68829}]},"mark":{"type":"rect","fillOpacity":0,"stroke":"#000000","strokeWidth":1},
 "encoding":{"x":{"field":"x1","type":"quantitative","scale":{"domain":[-0.375,466.875],"nice":false,"zero":false,"padding":0}},"x2":{"field":"x2"},
 "y":{"field":"p1","type":"quantitative","scale":{"domain":[0.679584,0.694617],"nice":false,"zero":false}},"y2":{"field":"p2"}}},
{"data":{"values":[{"x1":361.6,"x2":376.8,"p1":0.69346,"p2":0.69376}]},"mark":{"type":"rect","fillOpacity":0,"stroke":"#FF0000","strokeWidth":1},
 "encoding":{"x":{"field":"x1","type":"quantitative","scale":{"domain":[-0.375,466.875],"nice":false,"zero":false,"padding":0}},"x2":{"field":"x2"},
 "y":{"field":"p1","type":"quantitative","scale":{"domain":[0.679584,0.694617],"nice":false,"zero":false}},"y2":{"field":"p2"}}},
{"data":{"values":[{"i":361.2,"p":0.68791,"t":"0.68803"}]},"mark":{"type":"text","align":"left","baseline":"alphabetic","fontSize":26,"font":"Liberation Sans","color":"#000000"},
 "encoding":{"x":{"field":"i","type":"quantitative","scale":{"domain":[-0.375,466.875],"nice":false,"zero":false,"padding":0}},
 "y":{"field":"p","type":"quantitative","scale":{"domain":[0.679584,0.694617],"nice":false,"zero":false}},"text":{"field":"t"}}},
{"data":{"values":[{"i":362.05,"p":0.69350,"t":"0.69362"}]},"mark":{"type":"text","align":"left","baseline":"alphabetic","fontSize":16,"font":"Liberation Sans","color":"#FF0000"},
 "encoding":{"x":{"field":"i","type":"quantitative","scale":{"domain":[-0.375,466.875],"nice":false,"zero":false,"padding":0}},
 "y":{"field":"p","type":"quantitative","scale":{"domain":[0.679584,0.694617],"nice":false,"zero":false}},"text":{"field":"t"}}},
{"data":{"values":[{"i":335.6,"p":0.69427,"t":"⇩"},{"i":354.9,"p":0.68772,"t":"✓"}]},"mark":{"type":"text","align":"center","baseline":"middle","fontSize":30,"font":"DejaVu Sans","color":"#000000"},
 "encoding":{"x":{"field":"i","type":"quantitative","scale":{"domain":[-0.375,466.875],"nice":false,"zero":false,"padding":0}},
 "y":{"field":"p","type":"quantitative","scale":{"domain":[0.679584,0.694617],"nice":false,"zero":false}},"text":{"field":"t"}}},
{"data":{"name":"panel"},"mark":{"type":"rect","fill":"#DCDCDC","stroke":"#BEBEBE","strokeWidth":2},
 "encoding":{"x":{"field":"x1","type":"quantitative","scale":{"domain":[-0.375,466.875],"nice":false,"zero":false,"padding":0}},"x2":{"field":"x2"},
 "y":{"field":"p1","type":"quantitative","scale":{"domain":[0.679584,0.694617],"nice":false,"zero":false}},"y2":{"field":"p2"}}},
{"data":{"name":"palette"},"mark":{"type":"rect","strokeWidth":0},
 "encoding":{"x":{"field":"x1","type":"quantitative","scale":{"domain":[-0.375,466.875],"nice":false,"zero":false,"padding":0}},"x2":{"field":"x2"},
 "y":{"field":"p1","type":"quantitative","scale":{"domain":[0.679584,0.694617],"nice":false,"zero":false}},"y2":{"field":"p2"},
 "fill":{"field":"k","type":"nominal","scale":{"domain":["frameB","frameR","dodger","red","silver","lineG","lineR","pink","green","sky","gold","spring"],"range":["#DCDCDC","#DCDCDC","#1E90FF","#FF0000","#C0C0C0","#00FF00","#FF0000","#FF69B4","#008000","#87CEFA","#FFD700","#00FA9A"]},"legend":null}}},
{"data":{"name":"frames"},"mark":{"type":"rect","fillOpacity":0,"strokeWidth":2},
 "encoding":{"x":{"field":"x1","type":"quantitative","scale":{"domain":[-0.375,466.875],"nice":false,"zero":false,"padding":0}},"x2":{"field":"x2"},
 "y":{"field":"p1","type":"quantitative","scale":{"domain":[0.679584,0.694617],"nice":false,"zero":false}},"y2":{"field":"p2"},
 "stroke":{"field":"k","type":"nominal","scale":{"domain":["frameB","frameR"],"range":["#0000FF","#FF0000"]},"legend":null}}},
{"data":{"name":"levels"},"mark":{"type":"tick","orient":"horizontal","size":44,"thickness":12,"color":"#DC143C","opacity":1},
 "encoding":{"y":{"field":"p","type":"quantitative","scale":{"domain":[0.679584,0.694617],"nice":false,"zero":false}},"x":{"value":1892}}},
{"data":{"name":"bid"},"mark":{"type":"tick","orient":"horizontal","size":44,"thickness":12,"color":"#000000","opacity":1},
 "encoding":{"y":{"field":"p","type":"quantitative","scale":{"domain":[0.679584,0.694617],"nice":false,"zero":false}},"x":{"value":1892}}},
{"data":{"name":"levels"},"mark":{"type":"text","align":"left","baseline":"middle","fontSize":10,"font":"Liberation Sans","color":"#FFFFFF"},
 "encoding":{"y":{"field":"p","type":"quantitative","scale":{"domain":[0.679584,0.694617],"nice":false,"zero":false}},"x":{"value":1875},"text":{"field":"p","type":"quantitative","format":".5f"}}},
{"data":{"name":"bid"},"mark":{"type":"text","align":"left","baseline":"middle","fontSize":10,"font":"Liberation Sans","color":"#FFFFFF"},
 "encoding":{"y":{"field":"p","type":"quantitative","scale":{"domain":[0.679584,0.694617],"nice":false,"zero":false}},"x":{"value":1875},"text":{"field":"p","type":"quantitative","format":".5f"}}}
],
"resolve":{"scale":{"fill":"independent","stroke":"independent"}}
}
